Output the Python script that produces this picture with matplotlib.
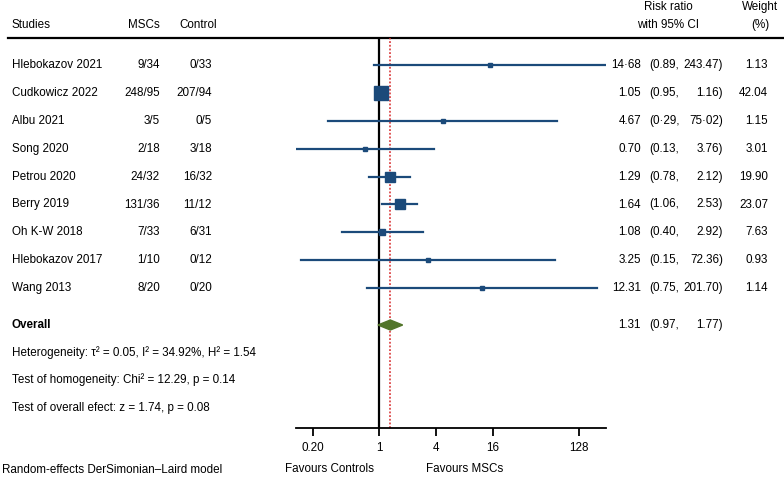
import matplotlib
matplotlib.use("Agg")
import matplotlib.pyplot as plt

plt.rcParams['font.family'] = ['Liberation Sans', 'DejaVu Sans']

# data
studies = ['Hlebokazov 2021', 'Cudkowicz 2022', 'Albu 2021', 'Song 2020', 'Petrou 2020',
           'Berry 2019', 'Oh K-W 2018', 'Hlebokazov 2017', 'Wang 2013']
msc = ['9/34', '248/95', '3/5', '2/18', '24/32', '131/36', '7/33', '1/10', '8/20']
control = ['0/33', '207/94', '0/5', '3/18', '16/32', '11/12', '6/31', '0/12', '0/20']
rr = [14.68, 1.05, 4.67, 0.70, 1.29, 1.64, 1.08, 3.25, 12.31]
lo = [0.89, 0.95, 0.29, 0.13, 0.78, 1.06, 0.40, 0.15, 0.75]
hi = [243.47, 1.16, 75.02, 3.76, 2.12, 2.53, 2.92, 72.36, 201.70]
weight = [1.13, 42.04, 1.15, 3.01, 19.90, 23.07, 7.63, 0.93, 1.14]
rr_lbl = ['14·68', '1.05', '4.67', '0.70', '1.29', '1.64', '1.08', '3.25', '12.31']
lo_lbl = ['(0.89,', '(0.95,', '(0·29,', '(0.13,', '(0.78,', '(1.06,', '(0.40,', '(0.15,', '(0.75,']
hi_lbl = ['243.47)', '1.16)', '75·02)', '3.76)', '2.12)', '2.53)', '2.92)', '72.36)', '201.70)']
overall = (1.31, 0.97, 1.77)
ticks = [0.20, 1, 4, 16, 128]
tick_lbl = ['0.20', '1', '4', '16', '128']

W, H = 784, 479
blue = '#1b4a7a'
green = '#52752a'
fs = 8.4

fig = plt.figure(figsize=(W / 100, H / 100), dpi=100)

# text layer in pixel coordinates
tx = fig.add_axes([0, 0, 1, 1])
tx.set_xlim(0, W)
tx.set_ylim(H, 0)
tx.axis('off')

# forest panel
x0, x1, ytop, ybot = 296, 606, 38, 428
ax = fig.add_axes([x0 / W, (H - ybot) / H, (x1 - x0) / W, (ybot - ytop) / H])
ax.set_xscale('log', base=2)
ax.set_xlim(2 ** -2.92, 2 ** 7.96)
ax.set_ylim(ybot, ytop)
ax.patch.set_alpha(0)
for s in ['top', 'left', 'right']:
    ax.spines[s].set_visible(False)
ax.spines['bottom'].set_linewidth(1.3)
ax.set_yticks([])
ax.set_xticks(ticks)
ax.set_xticklabels(tick_lbl, fontsize=fs)
ax.minorticks_off()
ax.tick_params(axis='x', direction='out', length=6, width=1.3, pad=4)

row_y = [65 + 27.9 * i for i in range(len(studies))]
y_over = 325

ax.axvline(1, color='black', lw=1.6, zorder=1)
ax.axvline(overall[0], color='#d62728', lw=1.1, ls=(0, (1.2, 1.2)), zorder=1)

for i, y in enumerate(row_y):
    ax.plot([lo[i], hi[i]], [y, y], color=blue, lw=1.6, zorder=2)
    side = max(4.0, 2.15 * weight[i] ** 0.5)
    ax.plot(rr[i], y, marker='s', ms=side * 0.72, color=blue, mec=blue, zorder=3)

ax.fill([overall[1], overall[0], overall[2], overall[0]],
        [y_over, y_over - 5, y_over, y_over + 5], color=green, zorder=3)

# header
tx.text(12, 25, 'Studies', fontsize=fs, va='center')
tx.text(160, 25, 'MSCs', fontsize=fs, va='center', ha='right')
tx.text(217, 25, 'Control', fontsize=fs, va='center', ha='right')
tx.text(668, 7, 'Risk ratio', fontsize=fs, va='center', ha='center')
tx.text(668, 25, 'with 95% CI', fontsize=fs, va='center', ha='center')
tx.text(760, 7, 'Weight', fontsize=fs, va='center', ha='center')
tx.text(760, 25, '(%)', fontsize=fs, va='center', ha='center')
tx.plot([8, W], [38, 38], color='black', lw=1.6)

for i, y in enumerate(row_y):
    tx.text(12, y, studies[i], fontsize=fs, va='center')
    tx.text(160, y, msc[i], fontsize=fs, va='center', ha='right')
    tx.text(212, y, control[i], fontsize=fs, va='center', ha='right')
    tx.text(641, y, rr_lbl[i], fontsize=fs, va='center', ha='right')
    tx.text(649, y, lo_lbl[i], fontsize=fs, va='center', ha='left')
    tx.text(723, y, hi_lbl[i], fontsize=fs, va='center', ha='right')
    tx.text(768, y, '%.2f' % weight[i], fontsize=fs, va='center', ha='right')

tx.text(12, y_over, 'Overall', fontsize=fs, va='center', fontweight='bold')
tx.text(641, y_over, '%.2f' % overall[0], fontsize=fs, va='center', ha='right')
tx.text(649, y_over, '(%.2f,' % overall[1], fontsize=fs, va='center', ha='left')
tx.text(723, y_over, '%.2f)' % overall[2], fontsize=fs, va='center', ha='right')

tx.text(12, 353, 'Heterogeneity: τ² = 0.05, I² = 34.92%, H² = 1.54', fontsize=fs, va='center')
tx.text(12, 380, 'Test of homogeneity: Chi² = 12.29, p = 0.14', fontsize=fs, va='center')
tx.text(12, 408, 'Test of overall efect: z = 1.74, p = 0.08', fontsize=fs, va='center')

tx.text(2, 470, 'Random-effects DerSimonian–Laird model', fontsize=fs, va='center')
tx.text(330, 469, 'Favours Controls', fontsize=fs, va='center', ha='center')
tx.text(465, 469, 'Favours MSCs', fontsize=fs, va='center', ha='center')

fig.savefig('out.png', dpi=100, facecolor='white')
